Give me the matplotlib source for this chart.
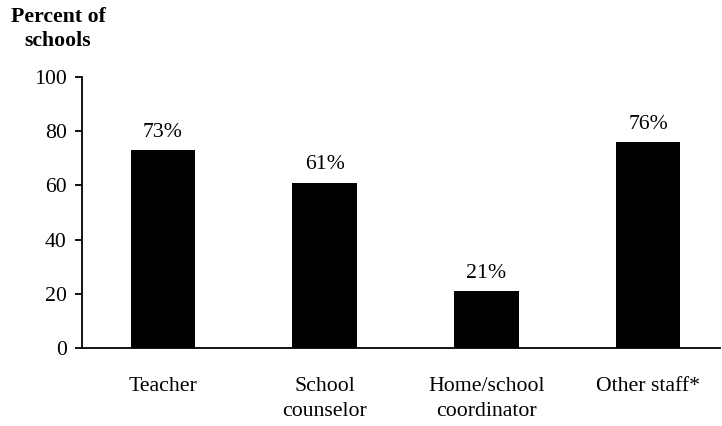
import matplotlib
matplotlib.use("Agg")
import matplotlib.pyplot as plt

categories = ["Teacher", "School\ncounselor", "Home/school\ncoordinator", "Other staff*"]
values = [73, 61, 21, 76]
yticks = [0, 20, 40, 60, 80, 100]

plt.rcParams["font.family"] = ["Liberation Serif", "DejaVu Serif"]
FS = 15.7

W, H = 722, 426
fig = plt.figure(figsize=(W / 100, H / 100), dpi=100)
ax = fig.add_axes([82 / W, (H - 348) / H, (720 - 82) / W, (348 - 77) / H])

x = range(len(categories))
ax.bar(x, values, width=0.40, color="black")
for xi, v in zip(x, values):
    ax.annotate(f"{v}%", (xi, v), xytext=(0, 6), textcoords="offset points",
                ha="center", va="bottom", fontsize=FS)

ax.set_xlim(-0.5, 3.445)
ax.set_ylim(0, 100)
ax.set_yticks(yticks)
ax.set_xticks(list(x))
ax.set_xticklabels(categories, fontsize=FS, linespacing=1.45)
ax.tick_params(axis="x", length=0, pad=21)
ax.tick_params(axis="y", length=5, width=1.3, direction="out", labelsize=FS, pad=6)
for s in ["top", "right"]:
    ax.spines[s].set_visible(False)
for s in ["left", "bottom"]:
    ax.spines[s].set_linewidth(1.3)

fig.text(58 / W, 1 - 7 / H, "Percent of\nschools", ha="center", va="top",
         fontsize=FS, fontweight="bold", linespacing=1.3)

fig.savefig("out.png", dpi=100)
